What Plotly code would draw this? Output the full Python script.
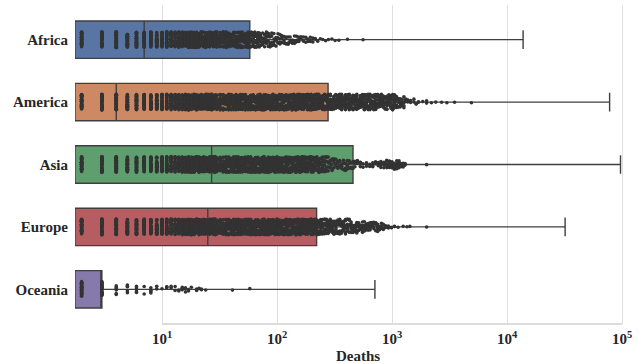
import numpy as np
import plotly.graph_objects as go

continents = ["Africa", "America", "Asia", "Europe", "Oceania"]
box_colors = ["#5875a4", "#cc8963", "#5f9e6e", "#b55d60", "#857aab"]

# pre-computed box statistics (deaths)
q1_vals = [1.75, 1.75, 1.75, 1.75, 1.75]
median_vals = [7, 4, 27, 25, 3]
q3_vals = [58, 278, 458, 221, 3]
lower_vals = [1, 1, 1, 1, 1]
upper_vals = [13800, 78000, 97000, 32000, 710]

tick_vals = [10, 100, 1000, 10000, 100000]
tick_text = ["10<sup>1</sup>", "10<sup>2</sup>", "10<sup>3</sup>", "10<sup>4</sup>", "10<sup>5</sup>"]

# strip points: observed values and how many times each appears
africa_vals = [2, 3, 4, 5, 6, 7, 8, 9, 10, 11, 12, 13, 14, 15, 16, 17, 18, 19, 20,
               21, 22, 23, 24, 25, 26, 27, 28, 29, 30, 32, 34, 36, 38, 40, 42, 44,
               46, 48, 50, 52, 54, 56, 58, 60, 62, 64, 66, 68, 70, 72, 75, 78, 81,
               84, 87, 90, 94, 98, 102, 106, 110, 115, 120, 125, 130, 136, 142, 148,
               155, 162, 170, 178, 186, 195, 205, 215, 226, 238, 250, 265, 280, 300,
               320, 345, 410, 560]
africa_counts = [36, 36, 36, 34, 34, 32, 30, 30, 28, 28, 26, 24, 24, 22, 22, 20, 20, 18, 18,
                 18, 18, 16, 16, 16, 16, 15, 15, 15, 15, 15, 14, 14, 14, 13, 13, 13,
                 12, 12, 12, 11, 11, 10, 10, 9, 8, 8, 7, 7, 7, 6, 6, 6, 6,
                 5, 5, 5, 5, 4, 4, 4, 4, 4, 4, 3, 3, 3, 3, 3,
                 3, 2, 2, 2, 2, 2, 2, 2, 1, 1, 1, 1, 1, 1,
                 1, 1, 1, 1]

america_vals = [2, 3, 4, 5, 6, 7, 8, 9, 10, 11, 12, 13, 14, 15, 16, 17, 18, 19, 20,
                21, 22, 23, 24, 25, 26, 27, 28, 29, 30, 32, 34, 36, 38, 40, 42, 44,
                46, 48, 50, 53, 56, 59, 62, 65, 68, 71, 74, 77, 80, 84, 88, 92, 96,
                100, 105, 110, 115, 120, 125, 130, 135, 140, 146, 152, 158, 164, 170,
                177, 184, 191, 198, 206, 214, 222, 231, 240, 249, 259, 269, 279, 290,
                301, 313, 325, 338, 351, 365, 379, 394, 409, 425, 441, 458, 476, 494,
                513, 533, 554, 575, 597, 620, 644, 669, 695, 722, 750, 779, 809, 840,
                872, 905, 940, 976, 1013, 1052, 1092, 1134, 1177, 1222, 1269, 1318,
                1368, 1450, 1550, 1620, 1700, 1850, 2000, 2200, 2400, 2700, 3000, 3500,
                4900]
america_counts = [40, 40, 40, 38, 38, 36, 34, 34, 32, 30, 30, 28, 26, 26, 24, 24, 22, 22, 22,
                  20, 20, 20, 20, 18, 18, 18, 18, 18, 18, 18, 17, 17, 17, 17, 16, 16,
                  16, 16, 16, 16, 15, 15, 15, 15, 15, 15, 14, 14, 14, 14, 14, 14, 14,
                  14, 14, 14, 14, 14, 14, 14, 14, 14, 14, 14, 14, 14, 14,
                  14, 14, 14, 14, 14, 14, 14, 14, 14, 14, 14, 14, 14, 14,
                  14, 14, 14, 14, 14, 14, 14, 14, 14, 13, 13, 13, 12, 12,
                  12, 12, 12, 12, 12, 12, 11, 11, 11, 11, 10, 10, 10, 10,
                  10, 9, 9, 8, 8, 7, 7, 6, 5, 5, 4, 4,
                  3, 2, 2, 2, 2, 1, 2, 1, 1, 1, 1, 1,
                  1]

asia_vals = [2, 3, 4, 5, 6, 7, 8, 9, 10, 11, 12, 13, 14, 15, 16, 17, 18, 19, 20,
             21, 22, 23, 24, 25, 26, 27, 28, 29, 30, 32, 34, 36, 38, 40, 42, 44,
             46, 48, 50, 53, 56, 59, 62, 65, 68, 71, 74, 77, 80, 84, 88, 92, 96,
             100, 105, 110, 115, 120, 125, 130, 135, 140, 146, 152, 158, 164, 170,
             177, 184, 191, 198, 206, 214, 222, 231, 240, 249, 259, 269, 279, 290,
             301, 313, 325, 338, 351, 365, 379, 394, 409, 425, 441, 458, 476, 500,
             530, 560, 600, 640, 680, 720, 760, 800, 850, 900, 950, 1000, 1050,
             1100, 1150, 1200, 1250, 1300, 2000]
asia_counts = [38, 38, 38, 36, 36, 34, 32, 32, 30, 30, 28, 26, 26, 24, 24, 22, 22, 22, 20,
               20, 20, 20, 18, 18, 18, 18, 18, 18, 18, 18, 17, 17, 17, 17, 16, 16,
               16, 16, 16, 16, 15, 15, 15, 15, 15, 15, 14, 14, 14, 14, 14, 14, 14,
               14, 14, 14, 14, 14, 14, 14, 14, 14, 14, 14, 14, 14, 14,
               13, 13, 13, 12, 12, 11, 10, 9, 8, 7, 6, 6, 5, 5,
               5, 4, 4, 4, 4, 4, 4, 4, 4, 3, 3, 3, 3, 3,
               3, 2, 2, 2, 3, 3, 4, 4, 5, 6, 6, 7, 7,
               7, 7, 6, 5, 3, 1]

europe_vals = [2, 3, 4, 5, 6, 7, 8, 9, 10, 11, 12, 13, 14, 15, 16, 17, 18, 19, 20,
               21, 22, 23, 24, 25, 26, 27, 28, 29, 30, 32, 34, 36, 38, 40, 42, 44,
               46, 48, 50, 53, 56, 59, 62, 65, 68, 71, 74, 77, 80, 84, 88, 92, 96,
               100, 105, 110, 115, 120, 125, 130, 135, 140, 146, 152, 158, 164, 170,
               177, 184, 191, 198, 206, 214, 222, 231, 240, 249, 259, 269, 279, 290,
               301, 313, 325, 338, 351, 365, 379, 394, 409, 425, 441, 458, 476, 494,
               513, 533, 554, 575, 597, 620, 644, 669, 695, 722, 750, 779, 809, 840,
               880, 930, 990, 1050, 1130, 1250, 1350, 1430, 2000]
europe_counts = [38, 38, 38, 36, 36, 34, 32, 32, 30, 30, 28, 26, 26, 24, 24, 22, 22, 22, 20,
                 20, 20, 20, 18, 18, 18, 18, 18, 18, 18, 18, 17, 17, 17, 17, 16, 16,
                 16, 16, 16, 16, 15, 15, 15, 15, 15, 15, 14, 14, 14, 14, 14, 14, 14,
                 14, 14, 14, 14, 14, 14, 14, 14, 14, 14, 14, 14, 14, 14,
                 14, 14, 14, 13, 12, 11, 10, 9, 9, 8, 8, 8, 8, 8,
                 8, 8, 8, 8, 8, 7, 7, 7, 7, 7, 6, 6, 6, 6,
                 6, 6, 6, 5, 5, 5, 5, 5, 4, 4, 4, 4, 3, 3,
                 3, 2, 2, 2, 1, 1, 1, 1, 1]

oceania_vals = [2, 3, 4, 5, 6, 7, 8, 9, 10, 11, 12, 13, 14, 15, 16, 17, 18, 20, 21,
                22, 24, 41, 58]
oceania_counts = [30, 26, 6, 5, 5, 2, 4, 2, 1, 3, 2, 2, 2, 3, 2, 2, 1, 2, 1,
                  2, 1, 1, 1]

strip_vals = [africa_vals, america_vals, asia_vals, europe_vals, oceania_vals]
strip_counts = [africa_counts, america_counts, asia_counts, europe_counts, oceania_counts]

serif = "Liberation Serif"
edge = "#3f3f3f"

fig = go.Figure()
for i, c in enumerate(continents):
    fig.add_trace(go.Box(
        y=[c], q1=[q1_vals[i]], median=[median_vals[i]], q3=[q3_vals[i]],
        lowerfence=[lower_vals[i]], upperfence=[upper_vals[i]],
        orientation="h", fillcolor=box_colors[i],
        line=dict(color=edge, width=1.4), whiskerwidth=0.5,
        width=0.6, boxpoints=False, showlegend=False, hoverinfo="skip",
    ))
    pts = np.repeat(np.array(strip_vals[i], dtype=float), strip_counts[i])
    fig.add_trace(go.Box(
        x=pts, y=[c] * len(pts), orientation="h",
        boxpoints="all", jitter=0.42, pointpos=0,
        fillcolor="rgba(0,0,0,0)", line=dict(color="rgba(0,0,0,0)", width=0),
        whiskerwidth=0, width=0.6,
        marker=dict(color="#333333", size=3.6, line=dict(width=0)),
        showlegend=False, hoverinfo="skip",
    ))

fig.update_layout(
    width=641, height=364,
    margin=dict(l=75, r=0, t=5, b=40),
    plot_bgcolor="white", paper_bgcolor="white",
    boxmode="overlay",
    font=dict(family=serif, size=15, color="#262626"),
    shapes=[dict(type="line", xref="x", yref="paper", x0=10, x1=100000, y0=0, y1=0,
                 line=dict(color="#d0d0d0", width=1.3), layer="below")],
)
fig.update_xaxes(
    type="log", range=[0.2435, 5.165], tickvals=tick_vals, ticktext=tick_text,
    showgrid=True, gridcolor="#dedede", gridwidth=1, showline=False, zeroline=False,
    ticks="", ticklabelstandoff=4,
    tickfont=dict(family=serif, size=15, color="#262626", weight="bold"),
    title=dict(text="Deaths", font=dict(family=serif, size=15, color="#262626", weight="bold"),
               standoff=5),
)
fig.update_yaxes(
    type="category", categoryorder="array", categoryarray=continents,
    autorange="reversed", showgrid=False, showline=False, zeroline=False,
    ticks="", ticklabelstandoff=6,
    tickfont=dict(family=serif, size=15, color="#262626", weight="bold"),
)

fig.write_html("out.html")
